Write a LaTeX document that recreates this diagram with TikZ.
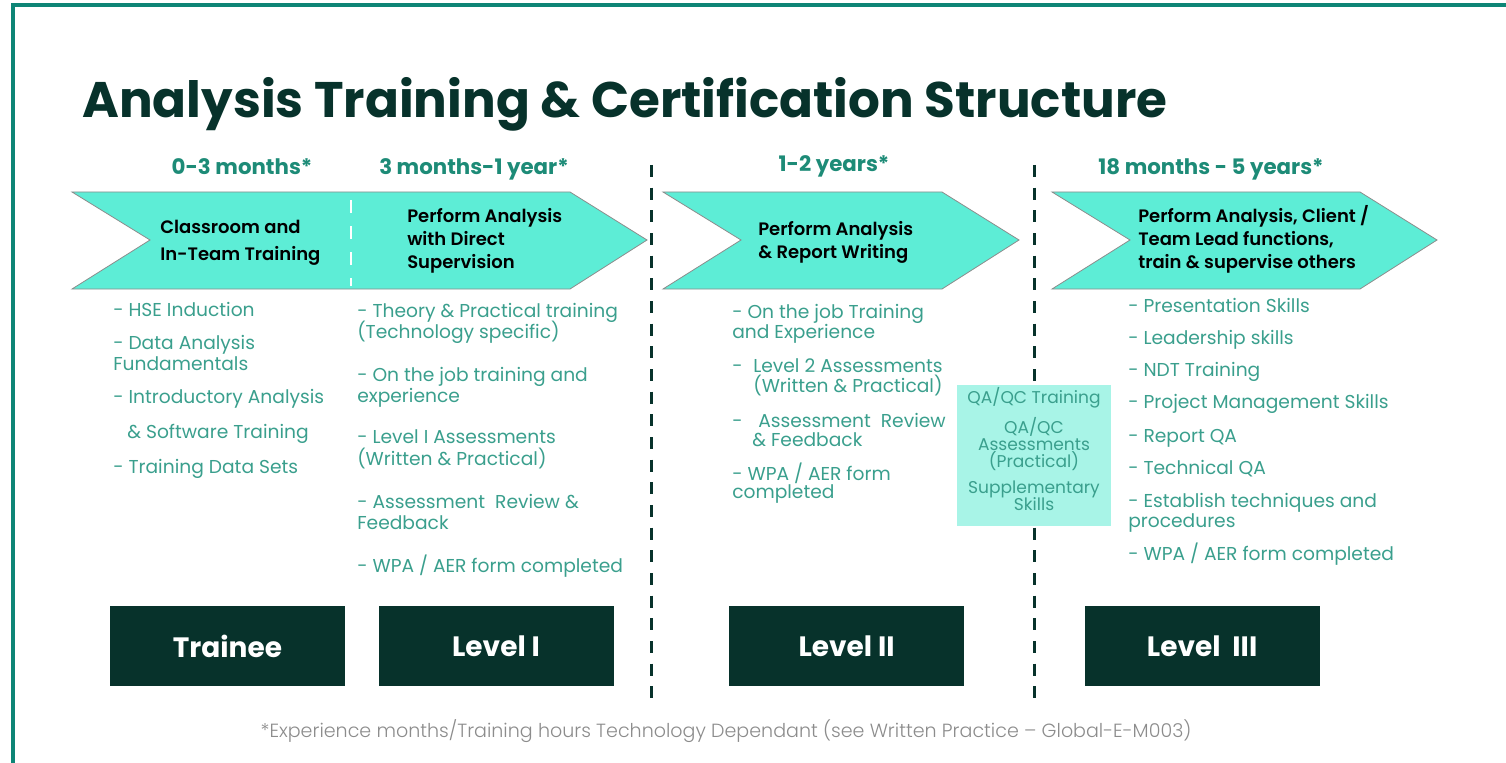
\documentclass[tikz,border=0pt]{standalone}
\usepackage{fontspec}
\setmainfont{Poppins}
\IfFontExistsTF{Poppins SemiBold}
  {\newfontfamily\semifont{Poppins SemiBold}}
  {\newcommand{\semifont}{\bfseries}}
\IfFontExistsTF{Poppins Light}
  {\newfontfamily\lightfont{Poppins Light}}
  {\newcommand{\lightfont}{}}
\usetikzlibrary{positioning}

\definecolor{framegreen}{HTML}{0E8576}
\definecolor{darkgreen}{HTML}{07322B}
\definecolor{agegreen}{HTML}{1D8B77}
\definecolor{mint}{HTML}{5DEDD6}
\definecolor{palemint}{HTML}{A8F4E7}
\definecolor{itemgreen}{HTML}{3A9F8D}
\definecolor{notegrey}{HTML}{8C8C8C}

% dash with a fixed run-in before the item text
\newcommand{\lead}[1]{\makebox[#1][l]{-}}

\begin{document}
\begin{tikzpicture}[
    x=0.75pt, y=-0.75pt,
    title/.style={
      font=\fontsize{37.5}{44}\selectfont\bfseries,
      text=darkgreen,
      anchor=base west,
      inner sep=0pt
    },
    age/.style={
      font=\fontsize{16}{19}\selectfont\bfseries,
      text=agegreen,
      anchor=base,
      inner sep=0pt
    },
    chevron/.style={
      fill=mint,
      draw=black!45,
      line width=0.6pt
    },
    stage/.style={
      font=\fontsize{13.5}{17.25}\selectfont\semifont,
      align=left,
      anchor=base west,
      inner sep=0pt
    },
    item/.style={
      font=\fontsize{14}{17}\selectfont,
      text=itemgreen,
      anchor=base west,
      inner sep=0pt
    },
    qabox/.style={
      fill=palemint,
      minimum width=115.5pt,
      minimum height=105.75pt,
      inner sep=0pt
    },
    qatext/.style={
      font=\fontsize{12.8}{15}\selectfont,
      text=itemgreen,
      anchor=base,
      inner sep=0pt
    },
    level/.style={
      fill=darkgreen,
      text=white,
      font=\fontsize{21}{25}\selectfont\bfseries,
      minimum width=176.25pt,
      minimum height=60pt
    },
    divider/.style={
      darkgreen,
      line width=2.25pt,
      dash pattern=on 9pt off 8pt
    },
    note/.style={
      font=\fontsize{14.3}{17}\selectfont\lightfont,
      text=notegrey,
      anchor=base,
      inner sep=0pt
    }
  ]

    \clip (0,0) rectangle (1506,763);

    % Outer frame, running off the page on the right and bottom
    \draw[framegreen, line width=3pt] (13,5) rectangle (1700,900);

    \node[title] (title) at (82,118) {Analysis Training \& Certification Structure};

    % Time spans above the chevrons
    \node[age] (age0) at (242,175) {0-3 months*};
    \node[age] (age1) at (474,175) {3 months-1 year*};
    \node[age] (age2) at (834,172) {1-2 years*};
    \node[age] (age3) at (1211,175) {18 months - 5 years*};

    % Stage chevrons
    \foreach \l/\r in {72/570, 663/942, 1052/1360}
      \draw[chevron] (\l,192) -- (\r,192) -- (\r+77,240) -- (\r,289)
        -- (\l,289) -- (\l+78,240) -- cycle;
    \draw[white, line width=1.5pt, dash pattern=on 9.75pt off 9.75pt] (351,200) -- (351,286);

    \node[stage] (classroom) at (160,260) {Classroom and\\[3pt]In-Team Training};
    \node[stage] (supervised) at (407,268) {Perform Analysis\\with Direct\\Supervision};
    \node[stage] (reporting) at (758,258) {Perform Analysis\\\& Report Writing};
    \node[stage] (leading) at (1138,268) {Perform Analysis, Client /\\Team Lead functions,\\train \& supervise others};

    % Phase dividers
    \draw[divider] (651,165) -- (651,705);
    \draw[divider] (1034,165) -- (1034,705);

    % Training content per level
    \foreach \x/\y/\t in {113/316/- HSE Induction, 113/349/- Data Analysis,
        113/370/Fundamentals, 113/403/- Introductory Analysis,
        127/438/\& Software Training, 113/473/- Training Data Sets}
      \node[item] (trainee-\y) at (\x,\y) {\t};

    \foreach \x/\y/\t in {357/317/- Theory \& Practical training,
        357/338/(Technology specific), 357/381/- On the job training and,
        357/402/experience, 357/443/- Level I Assessments,
        357/465/(Written \& Practical), 357/508/- Assessment\ \ Review \&,
        357/529/Feedback, 357/572/{- WPA / AER form completed}}
      \node[item] (levelone-\y) at (\x,\y) {\t};

    \foreach \x/\y/\t in {732/318/- On the job Training, 732/338/and Experience,
        732/372/\lead{15.75pt}Level 2 Assessments, 753/392/(Written \& Practical),
        732/427/\lead{19.5pt}Assessment\ \ Review, 752/446/\& Feedback,
        732/480/{- WPA / AER form}, 732/498/completed}
      \node[item] (leveltwo-\y) at (\x,\y) {\t};

    \foreach \x/\y/\t in {1128/312/- Presentation Skills, 1128/344/- Leadership skills,
        1128/376/- NDT Training, 1128/408/- Project Management Skills,
        1128/442/- Report QA, 1128/474/- Technical QA,
        1128/507/- Establish techniques and, 1128/527/procedures,
        1128/560/{- WPA / AER form completed}}
      \node[item] (levelthree-\y) at (\x,\y) {\t};

    % QA/QC block sitting on the second divider
    \node[qabox] (qa) at (1034,455.5) {};
    \foreach \y/\t in {403/{QA/QC Training}, 433/{QA/QC}, 450/Assessments,
        467/(Practical), 493/Supplementary, 510/Skills}
      \node[qatext] (qa-\y) at (1034,\y) {\t};

    % Certification levels
    \node[level] (trainee) at (227.5,646) {Trainee};
    \node[level, right=24.75pt of trainee] (levelone) {Level I};
    \node[level, right=86.25pt of levelone] (leveltwo) {Level II};
    \node[level, right=90pt of leveltwo] (levelthree) {Level\ \ III};

    \node[note] (footnote) at (726,737) {*Experience months/Training hours Technology Dependant (see Written Practice – Global-E-M003)};

\end{tikzpicture}
\end{document}
